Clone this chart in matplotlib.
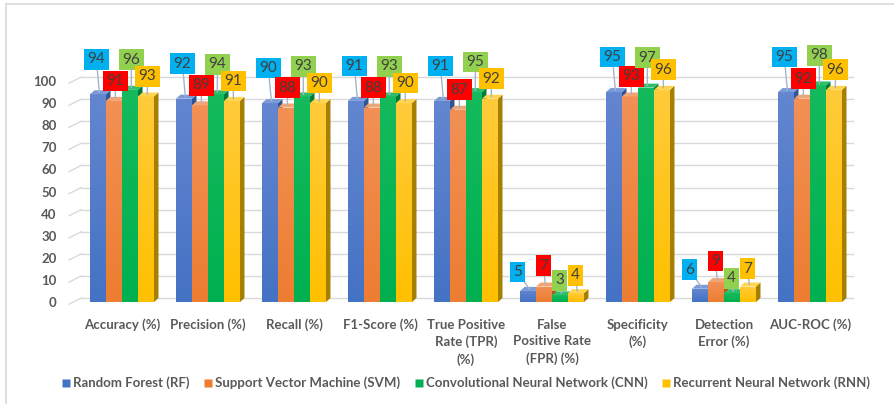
import matplotlib
matplotlib.use("Agg")
import matplotlib.pyplot as plt
from matplotlib.patches import Polygon, Rectangle
from matplotlib.lines import Line2D
import numpy as np

# ---- data -------------------------------------------------------------
categories = [
    "Accuracy (%)", "Precision (%)", "Recall (%)", "F1-Score (%)",
    "True Positive\nRate (TPR)\n(%)", "False\nPositive Rate\n(FPR) (%)",
    "Specificity\n(%)", "Detection\nError (%)", "AUC-ROC (%)",
]
series_names = [
    "Random Forest (RF)",
    "Support Vector Machine (SVM)",
    "Convolutional Neural Network (CNN)",
    "Recurrent Neural Network (RNN)",
]
rf = [94, 92, 90, 91, 91, 5, 95, 6, 95]
svm = [91, 89, 88, 88, 87, 7, 93, 9, 92]
cnn = [96, 94, 93, 93, 95, 3, 97, 4, 98]
rnn = [93, 91, 90, 90, 92, 4, 96, 7, 96]
y_ticks = [0, 10, 20, 30, 40, 50, 60, 70, 80, 90, 100]

# ---- styling ----------------------------------------------------------
front = ["#4472C4", "#ED7D31", "#00B050", "#FFC000"]
top_face = ["#7B9BD8", "#F4A470", "#2FBF6A", "#FFD54F"]
side_face = ["#2F5597", "#B5561B", "#007A38", "#A57F00"]
grad_top = ["#6486D0", "#F29055", "#14BA5C", "#FFCB3A"]
label_box = ["#00B0F0", "#FF0000", "#92D050", "#FFC000"]
# label offsets in pixels (dx, dy) for tall and short bars
off_tall = [(-3, 33), (0, 18), (0, 28), (0, 18)]
off_short = [(-12, 17), (-2, 19), (-2, 13), (-2, 16)]

W, H = 894, 404
DPI = 100
fig = plt.figure(figsize=(W / DPI, H / DPI), dpi=DPI)
fig.patch.set_facecolor("white")

ax_l, ax_r = 79 / W, 853 / W
y0_px, y100_px = 302, 81
ymax = 110
px_per_unit = (y0_px - y100_px) / 100
ax_b = (H - y0_px) / H
ax_h = ymax * px_per_unit / H
ax = fig.add_axes([ax_l, ax_b, ax_r - ax_l, ax_h])
ax.set_xlim(-0.5, len(categories) - 0.5)
ax.set_ylim(0, ymax)
for s in ax.spines.values():
    s.set_visible(False)
ax.patch.set_alpha(0)

xpx_per_unit = (853 - 79) / len(categories)
depth_x = 4.5 / xpx_per_unit
depth_y = 4.0 / px_per_unit

# gridlines with slanted side-wall segment
grid_c = "#D9D9D9"
for t in y_ticks:
    ax.plot([-0.5 + depth_x * 0.5, len(categories) - 0.5], [t + depth_y, t + depth_y],
            color=grid_c, lw=1.0, zorder=0, clip_on=False)
    ax.plot([-0.5 - 10 / xpx_per_unit, -0.5 + depth_x * 0.5], [t - 1.0, t + depth_y],
            color=grid_c, lw=1.0, zorder=0, clip_on=False)

ax.set_yticks(y_ticks)
ax.set_yticklabels([str(t) for t in y_ticks])
ax.tick_params(axis="y", length=0, pad=16, labelsize=9.5, labelcolor="#595959")
for lab in ax.get_yticklabels():
    lab.set_fontweight("bold")
    lab.set_family("Lato")

ax.set_xticks(range(len(categories)))
ax.set_xticklabels(categories, fontsize=9.5, color="#595959", fontweight="bold",
                   family="Lato", linespacing=1.45, va="top")
ax.tick_params(axis="x", length=0, pad=12)

x = np.arange(len(categories))
bw = 0.186
data = [rf, svm, cnn, rnn]
offsets = np.array([-1.5, -0.5, 0.5, 1.5]) * bw

for si, vals in enumerate(data):
    xs = x + offsets[si]
    z = 2 + si
    # front faces with a light vertical gradient
    bars = ax.bar(xs, vals, width=bw, color=front[si], zorder=z, linewidth=0)
    grad = np.linspace(0, 1, 64).reshape(-1, 1)
    from matplotlib.colors import LinearSegmentedColormap
    cmap = LinearSegmentedColormap.from_list("g", [front[si], grad_top[si]])
    for b in bars:
        bx, by = b.get_x(), b.get_y()
        bh = b.get_height()
        im = ax.imshow(grad, extent=[bx, bx + bw, 0, bh], origin="lower",
                       cmap=cmap, aspect="auto", zorder=z, interpolation="bilinear")
        im.set_clip_path(b)
    for xc, v in zip(xs, vals):
        x0, x1 = xc - bw / 2, xc + bw / 2
        side = Polygon([(x1, 0), (x1, v), (x1 + depth_x, v + depth_y), (x1 + depth_x, depth_y)],
                       closed=True, facecolor=side_face[si], edgecolor="none", zorder=z - 0.5)
        topp = Polygon([(x0, v), (x1, v), (x1 + depth_x, v + depth_y), (x0 + depth_x, v + depth_y)],
                       closed=True, facecolor=top_face[si], edgecolor="none", zorder=z + 0.1)
        ax.add_patch(side)
        ax.add_patch(topp)
    ax.set_xlim(-0.5, len(categories) - 0.5)
    ax.set_ylim(0, ymax)

# callout labels
for si, vals in enumerate(data):
    xs = x + offsets[si]
    for xc, v in zip(xs, vals):
        dx, dy = off_tall[si] if v > 50 else off_short[si]
        ax.annotate(str(v), xy=(xc + depth_x * 0.3, v + depth_y * 0.5),
                    xytext=(dx * 72 / DPI, dy * 72 / DPI), textcoords="offset points",
                    ha="center", va="center", fontsize=11, color="#404040",
                    family="Lato",
                    bbox=dict(boxstyle="square,pad=0.22", facecolor=label_box[si],
                              edgecolor="none"),
                    arrowprops=dict(arrowstyle="-", color="#A6B4C8", lw=1.0,
                                    shrinkA=0, shrinkB=0),
                    zorder=10 + si, annotation_clip=False)

# legend
handles = [Line2D([0], [0], marker="s", linestyle="none", markersize=6,
                  markerfacecolor=c, markeredgecolor="none") for c in front]
leg = fig.legend(handles, series_names, loc="center", bbox_to_anchor=(466 / W, 1 - 383 / H),
                 ncol=4, frameon=False, handlelength=0.6, handletextpad=0.25,
                 columnspacing=1.1, prop=dict(family="Lato", weight="bold", size=9.5))
for t in leg.get_texts():
    t.set_color("#595959")

# chart-area border (left and top edges)
fig.add_artist(Line2D([6 / W, 6 / W], [0, 1 - 4 / H], color="#D9D9D9", lw=1.2))
fig.add_artist(Line2D([6 / W, 1], [1 - 4 / H, 1 - 4 / H], color="#D9D9D9", lw=1.2))

fig.savefig("out.png", dpi=DPI, facecolor="white")
